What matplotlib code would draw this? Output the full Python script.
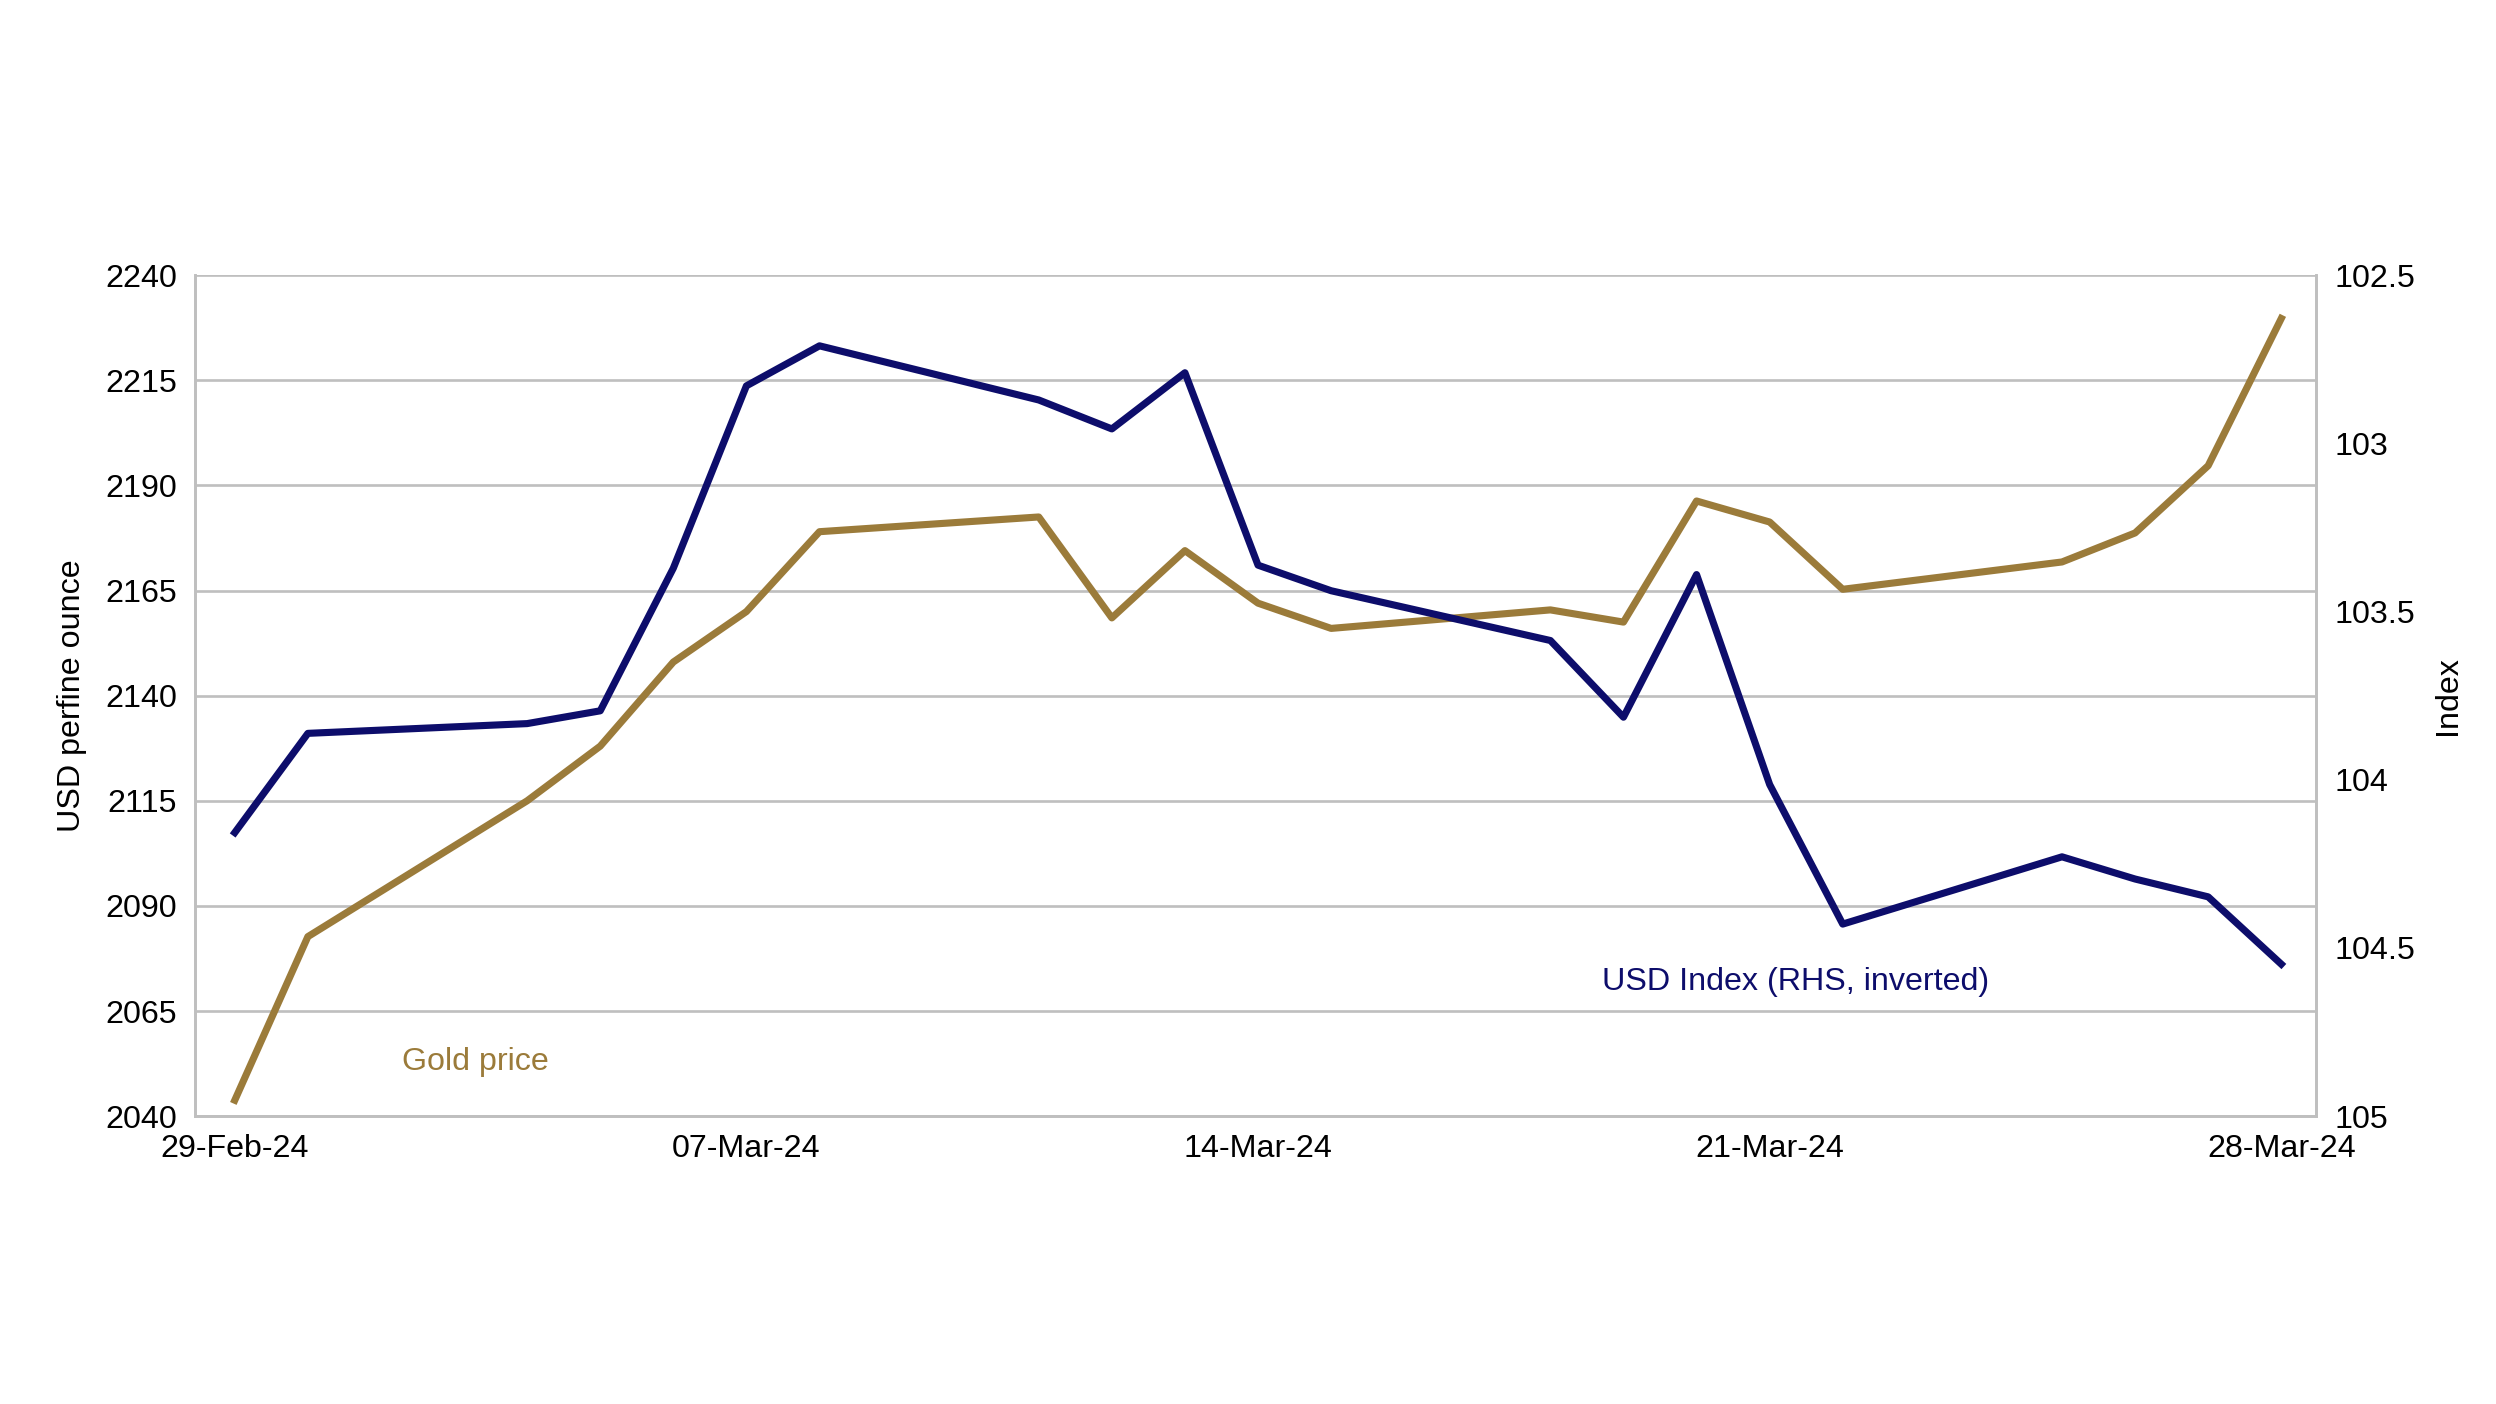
import matplotlib.pyplot as plt
import matplotlib.dates as mdates
import pandas as pd

plt.rcParams['font.family'] = 'Liberation Sans'

dates = ['2024-02-29', '2024-03-01', '2024-03-04', '2024-03-05', '2024-03-06', '2024-03-07', '2024-03-08',
         '2024-03-11', '2024-03-12', '2024-03-13', '2024-03-14', '2024-03-15',
         '2024-03-18', '2024-03-19', '2024-03-20', '2024-03-21', '2024-03-22',
         '2024-03-25', '2024-03-26', '2024-03-27', '2024-03-28']
gold = [2043.8, 2082.7, 2115.0, 2128.0, 2148.0, 2160.0, 2179.0,
        2182.5, 2158.5, 2174.5, 2162.0, 2156.0,
        2160.4, 2157.5, 2186.3, 2181.3, 2165.3,
        2171.8, 2178.7, 2194.7, 2229.7]
usd = [104.157, 103.862, 103.833, 103.795, 103.371, 102.829, 102.710,
       102.871, 102.957, 102.790, 103.362, 103.438,
       103.586, 103.814, 103.390, 104.014, 104.429,
       104.229, 104.295, 104.348, 104.548]
tick_dates = ['2024-02-29', '2024-03-07', '2024-03-14', '2024-03-21', '2024-03-28']

x = pd.to_datetime(dates)
gold_col = '#9B7B3A'
usd_col = '#0D0D6B'
grid_col = '#BFBFBF'

fig = plt.figure(figsize=(15.6, 8.775), dpi=160)
ax = fig.add_axes([0.078, 0.205, 0.85, 0.599])
ax2 = ax.twinx()

ax.plot(x, gold, color=gold_col, lw=3.2)
ax2.plot(x, usd, color=usd_col, lw=3.2)

ax.set_ylim(2040, 2240)
ax.set_yticks(range(2040, 2241, 25))
ax2.set_ylim(105, 102.5)
ax2.set_yticks([102.5, 103, 103.5, 104, 104.5, 105])
ax2.set_yticklabels(['102.5', '103', '103.5', '104', '104.5', '105'])
ax.set_xlim(pd.Timestamp('2024-02-28 10:50'), pd.Timestamp('2024-03-28 11:30'))
ax.set_xticks(pd.to_datetime(tick_dates))
ax.xaxis.set_major_formatter(mdates.DateFormatter('%d-%b-%y'))

ax.grid(axis='y', color=grid_col, lw=1.2)
ax.set_axisbelow(True)
for a in (ax, ax2):
    for s in a.spines.values():
        s.set_color(grid_col)
        s.set_linewidth(1.2)
    a.spines['top'].set_visible(False)
    a.tick_params(length=0, labelsize=14.5, pad=8)

ax.set_ylabel('USD perfine ounce', fontsize=14.5, labelpad=8)
ax2.set_ylabel('Index', fontsize=14.5, labelpad=8)

ax.text(pd.Timestamp('2024-03-02 07:00'), 2053, 'Gold price', color=gold_col, fontsize=14.5, va='center')
ax2.text(pd.Timestamp('2024-03-18 17:00'), 104.6, 'USD Index (RHS, inverted)', color=usd_col, fontsize=14.5, va='center')

fig.savefig('out.png')
